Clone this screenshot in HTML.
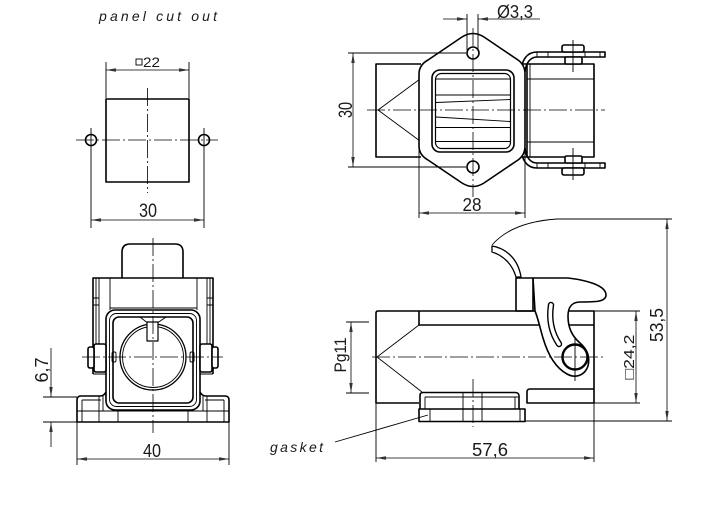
<!DOCTYPE html>
<html><head><meta charset="utf-8">
<style>
html,body{margin:0;padding:0;background:#fff;}
svg{display:block;}
text{font-family:"Liberation Sans","DejaVu Sans",sans-serif;fill:#1a1a1a;}
.k{fill:none;stroke:#000;stroke-width:1.6;stroke-linejoin:round}
.s{fill:none;stroke:#000;stroke-width:0.9}
.c{fill:none;stroke:#000;stroke-width:0.8;stroke-dasharray:18 3 2 3}
.d{fill:none;stroke:#000;stroke-width:0.8;marker-start:url(#a);marker-end:url(#a)}
.e{fill:none;stroke:#000;stroke-width:0.8;marker-end:url(#a)}
</style></head><body>
<svg width="706" height="510" viewBox="0 0 706 510" xmlns="http://www.w3.org/2000/svg">
<defs><marker id="a" viewBox="0 0 10 4" refX="10" refY="2" markerWidth="10" markerHeight="4" markerUnits="userSpaceOnUse" orient="auto-start-reverse"><path d="M0,0.3 L10,2 L0,3.7 z" fill="#333"/></marker></defs>

<!-- ============ PANEL CUT OUT ============ -->
<text x="99" y="21" font-size="14" font-style="italic" textLength="118" lengthAdjust="spacing">panel cut out</text>
<line class="s" x1="106" y1="62" x2="106" y2="98"/>
<line class="s" x1="189" y1="62" x2="189" y2="98"/>
<line class="d" x1="106" y1="70" x2="189" y2="70"/>
<rect class="s" x="136" y="59" width="6" height="6"/>
<text x="143" y="67" font-size="14" textLength="17" lengthAdjust="spacingAndGlyphs">22</text>
<rect class="k" x="106" y="99" width="83" height="83"/>
<line class="c" x1="147.5" y1="88" x2="147.5" y2="193"/>
<line class="c" x1="76" y1="140" x2="218" y2="140"/>
<circle class="k" cx="91" cy="140" r="5.5"/>
<circle class="k" cx="204" cy="140" r="5.5"/>
<line class="s" x1="91" y1="128" x2="91" y2="228"/>
<line class="s" x1="204" y1="128" x2="204" y2="228"/>
<line class="d" x1="91" y1="220" x2="204" y2="220"/>
<text x="148" y="217" font-size="19" text-anchor="middle" textLength="18" lengthAdjust="spacingAndGlyphs">30</text>

<!-- ============ TOP RIGHT VIEW ============ -->
<!-- left cable entry -->
<path class="k" d="M421,64 L376,64 L376,157 L421,157"/>
<line class="s" x1="378" y1="110" x2="420" y2="79"/>
<line class="s" x1="378" y1="110" x2="420" y2="141"/>
<!-- right body -->
<path class="k" d="M523,64 L594,64 L594,157 L523,157"/>
<line class="k" x1="527" y1="64" x2="527" y2="157"/>
<line class="s" x1="530" y1="64" x2="530" y2="157"/>
<line class="s" x1="527" y1="79" x2="594" y2="79"/>
<line class="s" x1="527" y1="142" x2="594" y2="142"/>
<!-- brackets top -->
<g>
<path class="k" d="M521,74 C521,60 527,52 537,52 L605,52 L605,57 L537,57 C531,57 526,62 525,72"/>
<path class="s" d="M537,52V57 M548,52V57 M585,52V57 M600,52V57"/>
<rect class="k" x="562" y="45" width="22" height="7" rx="2" style="fill:#fff"/>
<rect class="k" x="565" y="57" width="17" height="7" rx="1.5" style="fill:#fff"/>
<line class="s" x1="573" y1="40" x2="573" y2="72"/>
</g>
<!-- brackets bottom (mirror) -->
<g transform="matrix(1,0,0,-1,0,220)">
<path class="k" d="M521,74 C521,60 527,52 537,52 L605,52 L605,57 L537,57 C531,57 526,62 525,72"/>
<path class="s" d="M537,52V57 M548,52V57 M585,52V57 M600,52V57"/>
<rect class="k" x="562" y="45" width="22" height="7" rx="2" style="fill:#fff"/>
<rect class="k" x="565" y="57" width="17" height="7" rx="1.5" style="fill:#fff"/>
<line class="s" x1="573" y1="40" x2="573" y2="72"/>
</g>
<!-- flange -->
<path class="k" style="fill:#fff" d="M462,37 Q473,30 484,37 L518,60 Q525,65 525,74 L525,146 Q525,155 518,160 L484,183 Q473,190 462,183 L428,160 Q419,155 419,146 L419,74 Q419,65 428,60 Z"/>
<!-- window -->
<rect class="k" x="432" y="70" width="82" height="82" rx="8"/>
<rect class="s" x="435.5" y="73.5" width="75" height="75" rx="6" style="stroke-width:1.2"/>
<path class="s" d="M436,79H510 M436,95H510 M436,102.5L510,99.5 M436,117L510,121.5 M436,127.5H510 M436,141.5H510"/>
<!-- holes -->
<circle class="k" cx="473" cy="53" r="6" style="fill:#fff"/>
<circle class="k" cx="473" cy="167" r="6" style="fill:#fff"/>
<!-- centerlines -->
<line class="c" x1="367" y1="110" x2="605" y2="110"/>
<line class="c" x1="473" y1="28" x2="473" y2="197"/>
<!-- dims -->
<line class="s" x1="467" y1="14" x2="467" y2="50"/>
<line class="s" x1="478" y1="14" x2="478" y2="50"/>
<line class="e" x1="443" y1="19" x2="467" y2="19"/>
<line class="e" x1="540" y1="19" x2="478" y2="19"/>
<text x="497" y="18" font-size="18" textLength="36" lengthAdjust="spacingAndGlyphs">Ø3,3</text>
<line class="s" x1="348" y1="53" x2="466" y2="53"/>
<line class="s" x1="348" y1="167" x2="466" y2="167"/>
<line class="d" x1="353" y1="53" x2="353" y2="167"/>
<text transform="translate(352,110) rotate(-90)" font-size="19" text-anchor="middle" textLength="16" lengthAdjust="spacingAndGlyphs">30</text>
<line class="s" x1="419" y1="150" x2="419" y2="218"/>
<line class="s" x1="525" y1="150" x2="525" y2="218"/>
<line class="d" x1="419" y1="213" x2="525" y2="213"/>
<text x="472" y="211" font-size="18" text-anchor="middle" textLength="19" lengthAdjust="spacingAndGlyphs">28</text>

<!-- ============ BOTTOM LEFT VIEW ============ -->
<!-- cap -->
<path class="k" d="M122,278 L122,252 Q122,244 130,244 L175,244 Q183,244 183,252 L183,278"/>
<!-- hinge block -->
<path class="k" d="M93,374 L93,278 L213,278 L213,374"/>
<path class="s" d="M96,278V345 M99,278V345 M210,278V345 M207,278V345 M110,278V310 M197,278V310 M110,308H197 M93,298H99 M93,305H99 M207,298H213 M207,305H213 M93,374H106 M200,374H213"/>
<!-- housing -->
<rect class="k" x="106" y="310" width="94" height="100" rx="9" style="fill:#fff"/>
<rect class="s" x="109.5" y="313.5" width="87" height="93" rx="7"/>
<rect class="k" x="113" y="317" width="80" height="86" rx="6"/>
<circle class="k" cx="153" cy="357" r="33" style="stroke-width:1.3"/>
<circle class="s" cx="153" cy="357" r="30.5"/>
<path class="s" d="M140,317 L147,322.5 L158,322.5 L166,317"/>
<rect class="k" x="147" y="322" width="11" height="19" style="fill:#fff;stroke-width:1.2"/>
<rect class="s" x="112" y="352" width="4" height="10" rx="1.5"/>
<rect class="s" x="190" y="352" width="4" height="10" rx="1.5"/>
<!-- knobs -->
<rect class="k" x="94" y="344" width="12" height="28" rx="2" style="fill:#fff"/>
<rect class="k" x="88" y="347" width="6" height="21" rx="2" style="fill:#fff"/>
<rect class="k" x="200" y="344" width="12" height="28" rx="2" style="fill:#fff"/>
<rect class="k" x="212" y="347" width="6" height="21" rx="2" style="fill:#fff"/>
<!-- base -->
<path class="k" d="M106,392 Q104,396 100,396 L81,396 Q77,396 77,400 L77,422 L229,422 L229,400 Q229,396 225,396 L206,396 Q202,396 200,392"/>
<path class="s" d="M82,400 H101 M205,400 H224 M82,400 V422 M224,400 V422 M77,411 H229 M99,396 V422 M207,396 V422 M103,396 V411 M203,396 V411 M118,411 V422 M188,411 V422"/>
<!-- centerlines -->
<line class="c" x1="82" y1="357" x2="223" y2="357"/>
<line class="c" x1="153" y1="238" x2="153" y2="433"/>
<!-- dims -->
<line class="s" x1="43" y1="397" x2="77" y2="397"/>
<line class="s" x1="43" y1="422" x2="77" y2="422"/>
<line class="e" x1="51" y1="348" x2="51" y2="397"/>
<line class="e" x1="51" y1="447" x2="51" y2="422"/>
<text transform="translate(48,370) rotate(-90)" font-size="18" text-anchor="middle" textLength="25" lengthAdjust="spacingAndGlyphs">6,7</text>
<line class="s" x1="77" y1="422" x2="77" y2="465"/>
<line class="s" x1="229" y1="422" x2="229" y2="465"/>
<line class="d" x1="77" y1="459" x2="229" y2="459"/>
<text x="152" y="457" font-size="18" text-anchor="middle" textLength="18" lengthAdjust="spacingAndGlyphs">40</text>

<!-- ============ BOTTOM RIGHT VIEW ============ -->
<path class="k" d="M419,403 L376,403 L376,313 Q376,311 378,311 L594,311 L594,403 L527,403 L527,392 Q527,389 530,389 L594,389"/>
<path class="k" d="M419,311 V325 H594"/>
<line class="s" x1="377" y1="357" x2="419" y2="325"/>
<line class="s" x1="377" y1="357" x2="422" y2="392"/>
<!-- gasket -->
<path class="k" d="M420,409 L420,395.5 Q420,392.5 423,392.5 L515,392.5 Q519,392.5 519,396 L519,409"/>
<line class="s" x1="425" y1="397" x2="518" y2="397"/>
<rect class="k" x="419" y="409" width="106" height="12.5"/>
<path class="s" d="M425,397V409 M463,392.5V421.5 M482,392.5V421.5 M430,409V421.5 M520,409V421.5 M515,397V409"/>
<line class="c" x1="473" y1="379" x2="473" y2="427"/>
<!-- latch block -->
<rect class="k" x="516" y="278" width="17" height="33"/>
<!-- hook finger -->
<path class="k" style="fill:#fff;stroke-width:1.3" d="M492,246 C505,248 518,258 521,277 L516,277 C512,263 502,255 492,252 Z"/>
<path class="s" d="M492,245 Q512,222 557,219 L672,219"/>
<!-- lever -->
<path class="k" style="fill:#fff" d="M533,278 L568,278 C585,280 606,285 606,295 C606,302 595,302 580,302 C573,302 568,306 568,316 C568,328 572,336 580,343 C588,350 590,358 588,366 C585,375 576,379 567,374 C556,368 548,355 543,338 C540,328 538,318 535,311 L533,278 Z"/>
<path d="M551,305 C549,318 551,332 559,344" fill="none" stroke="#000" stroke-width="6.4" stroke-linecap="round"/>
<path d="M551,305 C549,318 551,332 559,344" fill="none" stroke="#fff" stroke-width="3.6" stroke-linecap="round"/>
<circle cx="575" cy="357" r="12.5" fill="#fff" stroke="#000" stroke-width="2.4"/>
<line class="s" x1="575" y1="337" x2="575" y2="381"/>
<line class="c" x1="372" y1="357" x2="605" y2="357"/>
<!-- dims -->
<line class="s" x1="346" y1="322" x2="369" y2="322"/>
<line class="s" x1="346" y1="393" x2="369" y2="393"/>
<line class="d" x1="351" y1="322" x2="351" y2="393"/>
<text transform="translate(346,355) rotate(-90)" font-size="17" text-anchor="middle" textLength="35" lengthAdjust="spacingAndGlyphs">Pg11</text>
<line class="s" x1="594" y1="311" x2="640" y2="311"/>
<line class="s" x1="594" y1="403" x2="640" y2="403"/>
<line class="d" x1="636" y1="311" x2="636" y2="403"/>
<text transform="translate(634,357) rotate(-90)" font-size="15" text-anchor="middle" textLength="45" lengthAdjust="spacingAndGlyphs">□24,2</text>
<line class="s" x1="525" y1="421" x2="672" y2="421"/>
<line class="d" x1="667" y1="219" x2="667" y2="421"/>
<text transform="translate(663,325) rotate(-90)" font-size="18" text-anchor="middle" textLength="34" lengthAdjust="spacingAndGlyphs">53,5</text>
<line class="s" x1="376" y1="403" x2="376" y2="462"/>
<line class="s" x1="594" y1="403" x2="594" y2="462"/>
<line class="d" x1="376" y1="458" x2="594" y2="458"/>
<text x="490" y="456" font-size="18" text-anchor="middle" textLength="36" lengthAdjust="spacingAndGlyphs">57,6</text>
<!-- gasket label -->
<text x="270" y="452" font-size="14" font-style="italic" textLength="53" lengthAdjust="spacing">gasket</text>
<line class="s" x1="335" y1="442" x2="428" y2="415"/>
</svg>
</body></html>
